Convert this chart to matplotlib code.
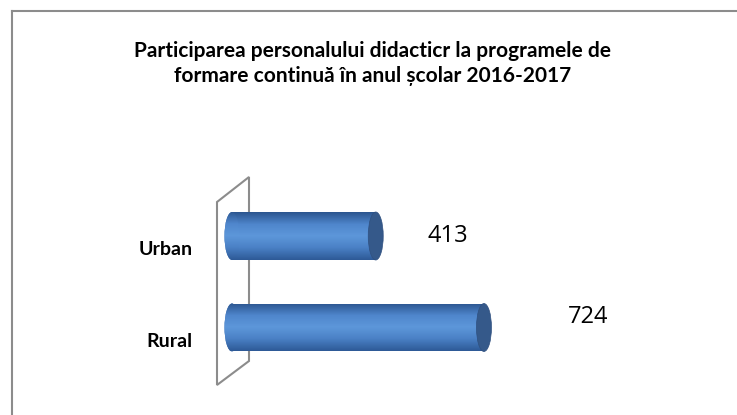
import numpy as np
import matplotlib
matplotlib.use("Agg")
import matplotlib.pyplot as plt
from matplotlib.patches import Ellipse, Polygon, Rectangle
from matplotlib.lines import Line2D
from matplotlib.colors import LinearSegmentedColormap

categories = ["Rural", "Urban"]
values = [724, 413]
title = "Participarea personalului didacticr la programele de\nformare continuă în anul școlar 2016-2017"

W, H = 737, 415
fig = plt.figure(figsize=(W / 100, H / 100), dpi=100)
fig.patch.set_facecolor("white")


def px(x, y):
    # pixel (top-left origin) -> figure fraction
    return x / W, 1 - y / H


# chart border (only top/left visible in the reference)
bx, by = px(11.5, 11.5)
fig.add_artist(Line2D([bx, 1.01], [by, by], transform=fig.transFigure,
                      color="#8c8c8c", linewidth=1.5, zorder=0))
fig.add_artist(Line2D([bx, bx], [by, -0.01], transform=fig.transFigure,
                      color="#8c8c8c", linewidth=1.5, zorder=0))

# back wall of the 3D plot area
wall = [px(217, 202), px(249, 177), px(249, 361), px(217, 385)]
fig.add_artist(Polygon(wall, closed=True, transform=fig.transFigure,
                       fill=False, edgecolor="#8c8c8c", linewidth=1.5, zorder=0.5))

fig.text(0.505, 1 - 63.5 / H, title, ha="center", va="center", fontsize=15,
         fontweight="bold", family=["Lato", "DejaVu Sans"], linespacing=1.33)

# axes: x=0 at pixel 232, 0.348 px per unit; y units of 91.5 px
x0_px, scale = 232, 0.348
left_px, right_px = 120, 700
top_px, bot_px = 150, 400
ax = fig.add_axes([left_px / W, 1 - bot_px / H, (right_px - left_px) / W, (bot_px - top_px) / H])
ax.set_zorder(2)
ax.axis("off")
ax.patch.set_alpha(0)
unit = 91.5
rural_px = 327.5

bar_h = 48 / unit
cap_w = 15 / scale
cmap = LinearSegmentedColormap.from_list(
    "cyl", ["#2c5690", "#4f86cc", "#5d97da", "#4a80c5", "#2e5a97"])
grad = np.linspace(0, 1, 64).reshape(-1, 1)
label_dy = [0.115, 0.0]

ypos = np.arange(len(categories))
bars = ax.barh(ypos, values, height=bar_h, color="none", edgecolor="none", zorder=3)
for i, (y, v) in enumerate(zip(ypos, values)):
    back = Ellipse((0, y), cap_w, bar_h, facecolor="#3f70b0", edgecolor="none", zorder=2)
    ax.add_patch(back)
    for clip in (Rectangle((0, y - bar_h / 2), v, bar_h, transform=ax.transData), back):
        im = ax.imshow(grad, cmap=cmap, aspect="auto", origin="upper",
                       extent=(-cap_w / 2, v, y - bar_h / 2, y + bar_h / 2), zorder=3)
        im.set_clip_path(clip)
    cap = Ellipse((v, y), cap_w, bar_h, facecolor="#35598a", edgecolor="#2f5080",
                  linewidth=0.5, zorder=4)
    ax.add_patch(cap)
    ax.text(v * 1.295 + 86, y + label_dy[i], str(v), ha="center", va="center",
            fontsize=17, family=["Open Sans", "DejaVu Sans"], color="black", zorder=5)
    ax.text(-(x0_px - 193) / scale, y - 0.15, categories[i],
            ha="right", va="center", fontsize=14, fontweight="bold",
            family=["Lato", "DejaVu Sans"], zorder=5)

ax.set_xlim((left_px - x0_px) / scale, (right_px - x0_px) / scale)
ax.set_ylim(-(bot_px - rural_px) / unit, (rural_px - top_px) / unit)

fig.savefig("out.png", dpi=100)
